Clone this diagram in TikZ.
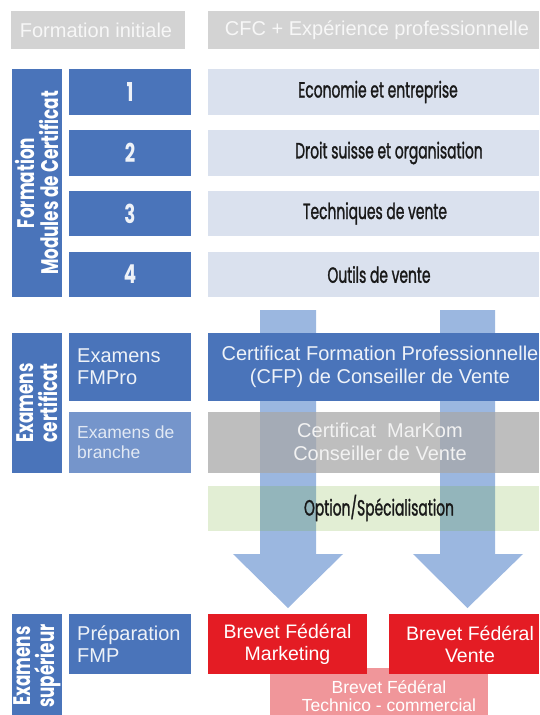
\documentclass[tikz,border=0pt]{standalone}
\usepackage{fontspec}
\setmainfont{Liberation Sans}
\newfontfamily\cond[FakeStretch=0.70]{Poppins}
\newfontfamily\condm[FakeStretch=0.63,FakeBold=1.2]{Poppins}
\definecolor{hdrgrey}{HTML}{D3D3D3}
\definecolor{mblue}{HTML}{4A74BA}
\definecolor{lblue}{HTML}{7595CB}
\definecolor{pale}{HTML}{DAE1EE}
\definecolor{arrowc}{HTML}{9BB7E0}
\definecolor{mkgrey}{HTML}{A8A8A8}
\definecolor{optgreen}{HTML}{7AB13B}
\definecolor{bred}{HTML}{E41C24}
\definecolor{bpink}{HTML}{F0969A}
\definecolor{ltext}{HTML}{EEF2F8}
\begin{document}
\begin{tikzpicture}[x=1pt,y=-1pt,
  box/.style={draw=none, inner sep=0pt, outer sep=0pt, anchor=north west},
  hdr/.style={box, fill=hdrgrey},
  bluebox/.style={box, fill=mblue},
  palebox/.style={box, fill=pale},
  txt/.style={inner sep=0pt, align=center},
  hdrtxt/.style={txt, text=white!97!black, font=\fontsize{20}{22}\selectfont},
  numtxt/.style={txt, text=ltext, font=\cond\bfseries\fontsize{26}{26}\selectfont},
  modtxt/.style={txt, text=black!90, font=\condm\fontsize{22}{24}\selectfont},
  vtxt/.style={txt, text=white, rotate=90, font=\cond\bfseries\fontsize{24}{24}\selectfont},
  ltxt/.style={inner sep=0pt, align=left, anchor=west, text=ltext},
  wtxt/.style={txt, text=white, font=\fontsize{20}{22.5}\selectfont}
]
\useasboundingbox (0,0) rectangle (539,715);

% header
\node[hdr, minimum width=174pt, minimum height=38pt] (h1) at (11,11) {};
\node[hdr, minimum width=331pt, minimum height=38pt] (h2) at (208,11) {};
\node[hdrtxt] (th1) at (96,30) {Formation initiale};
\node[hdrtxt] (th2) at (377,30) {CFC + Expérience professionnelle};

% section 1
\node[bluebox, minimum width=50pt, minimum height=228pt] (bar1) at (12,69) {};
\node[bluebox, minimum width=122pt, minimum height=46pt] (n1) at (69,69) {};
\node[bluebox, minimum width=122pt, minimum height=46pt] (n2) at (69,130) {};
\node[bluebox, minimum width=122pt, minimum height=45pt] (n3) at (69,191) {};
\node[bluebox, minimum width=122pt, minimum height=45pt] (n4) at (69,252) {};
\node[palebox, minimum width=331pt, minimum height=46pt] (m1) at (208,69) {};
\node[palebox, minimum width=331pt, minimum height=46pt] (m2) at (208,130) {};
\node[palebox, minimum width=331pt, minimum height=45pt] (m3) at (208,191) {};
\node[palebox, minimum width=331pt, minimum height=45pt] (m4) at (208,252) {};
\node[vtxt] (tbar1) at (37,183) {Formation\\Modules de Certificat};
\node[numtxt] (tn1) at (130,92) {1};
\node[numtxt] (tn2) at (130,153) {2};
\node[numtxt] (tn3) at (130,213.5) {3};
\node[numtxt] (tn4) at (130,274.5) {4};
\node[modtxt] (tm1) at (378,92) {Economie et entreprise};
\node[modtxt] (tm2) at (389,153) {Droit suisse et organisation};
\node[modtxt] (tm3) at (375,213.5) {Techniques de vente};
\node[modtxt] (tm4) at (379,274.5) {Outils de vente};

% block arrows
\fill[arrowc] (260,310) -- (316,310) -- (316,554) -- (343,554) -- (288,608) -- (233,554) -- (260,554) -- cycle;
\fill[arrowc] (440,310) -- (495,310) -- (495,554) -- (523,554) -- (467.5,608) -- (413,554) -- (440,554) -- cycle;

% section 2
\node[box, fill=mkgrey, fill opacity=0.75, minimum width=331pt, minimum height=61pt] (mk) at (208,412) {};
\node[box, fill=optgreen, fill opacity=0.22, minimum width=331pt, minimum height=45pt] (opt) at (208,486) {};
\node[bluebox, minimum width=50pt, minimum height=140pt] (bar2) at (12,333) {};
\node[bluebox, minimum width=122pt, minimum height=68pt] (e1) at (69,333) {};
\node[box, fill=lblue, minimum width=122pt, minimum height=61pt] (e2) at (69,412) {};
\node[bluebox, minimum width=331pt, minimum height=68pt] (cfp) at (208,333) {};
\node[vtxt] (tbar2) at (37,403) {Examens\\certificat};
\node[ltxt, font=\fontsize{20}{22}\selectfont] (te1) at (77,367) {Examens\\FMPro};
\node[ltxt, font=\fontsize{17.5}{20}\selectfont, text=ltext!90!lblue] (te2) at (77,442) {Examens de\\branche};
\node[wtxt, text=ltext] (tcfp) at (380,367) {Certificat Formation Professionnelle\\(CFP) de Conseiller de Vente};
\node[wtxt, text=white!95!black] (tmk) at (380,442) {Certificat\ \ MarKom\\Conseiller de Vente};
\node[modtxt] (topt) at (379,508) {Option/Spécialisation};

% section 3
\node[bluebox, minimum width=50pt, minimum height=101pt] (bar3) at (12,614) {};
\node[bluebox, minimum width=122pt, minimum height=60pt] (prep) at (69,614) {};
\node[box, fill=bpink, minimum width=218pt, minimum height=47pt] (pink) at (270,668) {};
\node[box, fill=bred, minimum width=159pt, minimum height=60pt] (bm) at (208,614) {};
\node[box, fill=bred, minimum width=150pt, minimum height=60pt] (bv) at (389,614) {};
\node[vtxt] (tbar3) at (37,666) {Examens\\supérieur};
\node[ltxt, font=\fontsize{20}{22}\selectfont] (tprep) at (77,644) {Préparation\\FMP};
\node[wtxt, font=\fontsize{19.5}{22}\selectfont] (tbm) at (287.5,644) {Brevet Fédéral\\Marketing};
\node[wtxt, font=\fontsize{19.5}{22}\selectfont] (tbv) at (470,644) {Brevet Fédéral\\Vente};
\node[wtxt, font=\fontsize{17.5}{17.5}\selectfont] (tpink) at (389,696) {Brevet Fédéral\\Technico - commercial};
\end{tikzpicture}
\end{document}
